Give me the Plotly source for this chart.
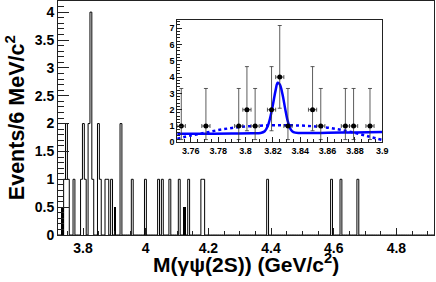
import numpy as np
import plotly.graph_objects as go

# ---- main histogram (6 MeV bins from 3.72 to 4.92 GeV) ----
bin_start = 3.72
bin_width = 0.006
n_bins = 200
main_centers = [3.741, 3.747, 3.753, 3.771, 3.795, 3.801, 3.807, 3.819, 3.825,
                3.831, 3.849, 3.855, 3.873, 3.879, 3.891, 3.921, 3.957, 3.999,
                4.041, 4.053, 4.077, 4.107, 4.137, 4.179, 4.185, 4.389, 4.593,
                4.623, 4.677]
main_counts = [1, 2, 1, 1, 1, 2, 1, 2, 4,
               1, 2, 1, 1, 1, 1, 2, 1, 1,
               1, 1, 1, 1, 1, 1, 1, 1, 1,
               1, 1]
# sideband (scaled) histogram
sb_centers = [3.735, 3.903, 4.125]
sb_counts = [0.5, 0.5, 0.5]

# ---- inset data ----
ins_x = [3.753, 3.771, 3.795, 3.801, 3.807, 3.819, 3.825, 3.831, 3.849, 3.855,
         3.873, 3.879, 3.891]
ins_y = [1, 1, 1, 2, 1, 2, 4, 1, 2, 1, 1, 1, 1]
ins_err_up = [2.30, 2.30, 2.30, 2.64, 2.30, 2.64, 3.16, 2.30, 2.64, 2.30, 2.30, 2.30, 2.30]
ins_err_dn = [0.83, 0.83, 0.83, 1.29, 0.83, 1.29, 1.91, 0.83, 1.29, 0.83, 0.83, 0.83, 0.83]
ins_err_x = 0.003

# fit curves
fit_x = [3.750, 3.770, 3.790, 3.805, 3.811, 3.814, 3.816, 3.818, 3.820, 3.822,
         3.8235, 3.825, 3.827, 3.829, 3.831, 3.833, 3.835, 3.840, 3.860, 3.880, 3.900]
fit_y = [0.52, 0.53, 0.54, 0.55, 0.57, 0.68, 0.95, 1.50, 2.30, 3.20,
         3.65, 3.55, 2.95, 2.05, 1.25, 0.80, 0.62, 0.57, 0.59, 0.61, 0.63]
bkg_x = [3.75, 3.76, 3.77, 3.78, 3.79, 3.80, 3.81, 3.82, 3.83, 3.84, 3.85,
         3.86, 3.87, 3.88, 3.89, 3.90]
bkg_y = [0.22, 0.42, 0.58, 0.75, 0.88, 0.97, 1.02, 1.05, 1.05, 1.03, 0.98,
         0.90, 0.76, 0.58, 0.36, 0.14]

x_title = "M(γψ(2S)) (GeV/c<sup>2</sup>)"
y_title = "Events/6 MeV/c<sup>2</sup>"

# build step outline of the main histogram
edges = bin_start + bin_width * np.arange(n_bins + 1)
counts = np.zeros(n_bins)
for c, v in zip(main_centers, main_counts):
    k = int(np.floor((c - bin_start) / bin_width))
    counts[k] = v
step_y = np.append(counts, counts[-1])

FONT = "Liberation Sans, Arial, Helvetica, sans-serif"
AX = "#222222"

fig = go.Figure()
fig.add_trace(go.Bar(x=sb_centers, y=sb_counts, width=bin_width,
                     marker=dict(color="black", line=dict(width=0)),
                     xaxis="x", yaxis="y", showlegend=False))
fig.add_trace(go.Scatter(x=edges, y=step_y, mode="lines",
                         line=dict(color="black", width=1, shape="hv"),
                         xaxis="x", yaxis="y", showlegend=False))

# inset
fig.add_trace(go.Scatter(x=bkg_x, y=bkg_y, mode="lines",
                         line=dict(color="#0000ff", width=2.5, dash="dot", shape="spline"),
                         xaxis="x2", yaxis="y2", showlegend=False))
fig.add_trace(go.Scatter(x=fit_x, y=fit_y, mode="lines",
                         line=dict(color="#0000ff", width=2.5, shape="spline"),
                         xaxis="x2", yaxis="y2", showlegend=False))
fig.add_trace(go.Scatter(x=ins_x, y=ins_y, mode="markers",
                         marker=dict(color="black", size=5),
                         error_y=dict(type="data", symmetric=False, array=ins_err_up,
                                      arrayminus=ins_err_dn, color="#333333",
                                      thickness=0.8, width=2),
                         error_x=dict(type="constant", value=ins_err_x, color="#333333",
                                      thickness=0.8, width=2),
                         xaxis="x2", yaxis="y2", showlegend=False))

common = dict(showline=True, linecolor=AX, linewidth=1, mirror=True,
              showgrid=False, zeroline=False, automargin=False, tickcolor=AX,
              ticks="inside")

fig.update_layout(
    width=436, height=282,
    margin=dict(l=58, r=2, t=1, b=47, autoexpand=False),
    paper_bgcolor="white", plot_bgcolor="white",
    font=dict(family=FONT, color="black"),
    bargap=0,
    xaxis=dict(domain=[0, 1], range=[3.72, 4.92], tick0=3.8, dtick=0.2, ticklen=7,
               minor=dict(dtick=0.05, ticks="inside", ticklen=4, tickcolor=AX),
               tickfont=dict(size=14, family=FONT, weight="bold"), **common),
    yaxis=dict(domain=[0, 1], range=[0, 4.2], dtick=0.5, ticklen=11,
               minor=dict(dtick=0.1, ticks="inside", ticklen=5.5, tickcolor=AX),
               tickfont=dict(size=14, family=FONT, weight="bold"), **common),
    xaxis2=dict(domain=[0.317, 0.8625], anchor="y2", range=[3.75, 3.9],
                tick0=3.76, dtick=0.02, ticklen=5,
                minor=dict(dtick=0.005, ticks="inside", ticklen=3, tickcolor=AX),
                tickfont=dict(size=9, family=FONT, weight="bold"), **common),
    yaxis2=dict(domain=[0.396, 0.919], anchor="x2", range=[0, 7.5], dtick=1, ticklen=5,
                minor=dict(dtick=0.2, ticks="inside", ticklen=3, tickcolor=AX),
                tickfont=dict(size=9, family=FONT, weight="bold"), **common),
    annotations=[
        dict(text=x_title, xref="paper", yref="paper", x=0.5, y=-0.118,
             xanchor="center", yanchor="middle", showarrow=False,
             font=dict(size=21, family=FONT, weight="bold")),
        dict(text=y_title, xref="paper", yref="paper", x=-0.114, y=0.5,
             xanchor="center", yanchor="middle", textangle=-90, showarrow=False,
             font=dict(size=21.5, family=FONT, weight="bold")),
    ],
)

fig.write_html("out.html", config={"displayModeBar": False},
               post_script="document.body.style.margin='0';")
